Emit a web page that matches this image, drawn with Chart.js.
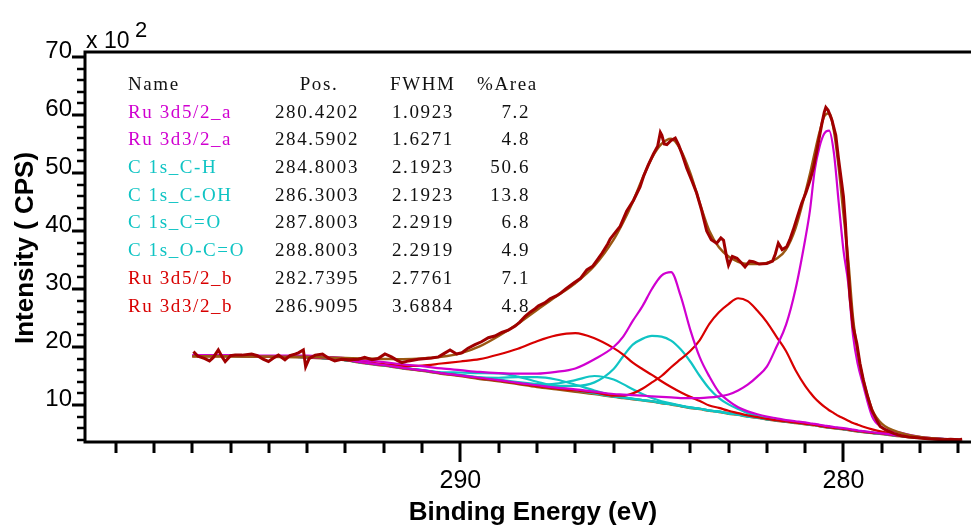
<!DOCTYPE html>
<html lang="en">
<head>
    <meta charset="UTF-8">
    <title>XPS Ru 3d / C 1s fit</title>
    <script src="https://cdn.jsdelivr.net/npm/chart.js"></script>
    <style>
        body { margin: 0; background: #fff; }
        canvas { display: block; }
    </style>
</head>
<body>
<canvas id="xpsChart" width="971" height="527"></canvas>
<script>
// measured spectrum (binding energy, intensity x100 CPS)
const rawE = [296.97, 296.85, 296.67, 296.55, 296.45, 296.32, 296.22, 296.14, 296.0, 295.88,
    295.7, 295.45, 295.3, 295.15, 295.01, 294.88, 294.75, 294.58, 294.45, 294.3,
    294.23, 294.1, 294.04, 293.95, 293.79, 293.6, 293.45, 293.28, 293.1, 292.9,
    292.66, 292.5, 292.31, 292.15, 291.97, 291.8, 291.65, 291.53, 291.35, 291.1,
    290.9, 290.75, 290.57, 290.42, 290.27, 290.1, 289.96, 289.8, 289.62, 289.45,
    289.27, 289.1, 288.92, 288.75, 288.57, 288.45, 288.31, 288.18, 288.05, 287.96,
    287.8, 287.66, 287.5, 287.4, 287.25, 287.05, 286.87, 286.7, 286.55, 286.44,
    286.3, 286.15, 286.09, 285.95, 285.83, 285.66, 285.48, 285.31, 285.22, 285.1,
    284.96, 284.85, 284.78, 284.74, 284.68, 284.61, 284.5, 284.39, 284.3, 284.2,
    284.09, 283.96, 283.83, 283.7, 283.57, 283.45, 283.31, 283.2, 283.13, 283.05,
    283.0, 282.9, 282.78, 282.68, 282.57, 282.45, 282.35, 282.2, 282.0, 281.85,
    281.78, 281.7, 281.6, 281.48, 281.4, 281.31, 281.2, 281.09, 280.98, 280.87,
    280.78, 280.69, 280.62, 280.56, 280.5, 280.46, 280.4, 280.3, 280.2, 280.13,
    280.05, 280.0, 279.95, 279.91, 279.83, 279.75, 279.65, 279.57, 279.48, 279.37,
    279.26, 279.15, 279.04, 278.9, 278.69, 278.5, 278.3, 278.0, 277.8, 277.6,
    277.4, 277.2, 277.0, 276.9];
const rawI = [19.2, 18.4, 18.0, 17.6, 18.2, 19.5, 18.3, 17.5, 18.5, 18.6,
    18.6, 18.8, 18.5, 17.9, 17.5, 18.1, 18.6, 17.8, 18.5, 18.8,
    19.0, 19.5, 16.6, 18.0, 18.6, 18.8, 18.1, 17.6, 17.9, 17.8,
    17.9, 18.2, 17.8, 18.0, 18.8, 18.3, 17.7, 17.3, 17.6, 17.9,
    18.0, 18.1, 18.3, 18.9, 19.5, 18.8, 19.0, 19.8, 20.4, 20.9,
    21.6, 21.9, 22.5, 22.9, 23.6, 24.3, 25.3, 26.0, 26.6, 27.1,
    27.6, 28.3, 28.8, 29.2, 30.0, 31.0, 31.8, 33.3, 33.9, 34.9,
    36.2, 37.8, 38.6, 39.8, 40.8, 43.4, 45.3, 47.6, 49.4, 51.3,
    53.3, 54.6, 57.0, 56.5, 55.0, 54.9, 55.6, 56.0, 54.8, 53.0,
    50.8, 48.7, 46.5, 43.5, 40.0, 38.5, 37.9, 38.8, 38.4, 35.5,
    34.1, 35.6, 35.3, 34.6, 33.8, 34.8, 34.7, 34.3, 34.4, 34.8,
    36.0, 37.9, 36.8, 37.3, 38.5, 40.2, 42.5, 44.8, 46.6, 48.8,
    51.0, 54.0, 56.5, 58.6, 60.5, 61.3, 60.8, 59.1, 56.5, 52.5,
    48.5, 45.9, 41.5, 36.7, 28.7, 23.5, 20.6, 17.2, 14.3, 11.5,
    9.1, 7.6, 6.3, 5.7, 5.1, 4.7, 4.5, 4.3, 4.2, 4.1,
    4.0, 4.1, 4.0, 4.1];

// energies where the fit curves were read
const fitE = [297, 296, 295, 294, 293.5, 293, 292.5, 292, 291.5, 291, 290.5, 290,
    289.5, 289, 288.5, 288, 287.5, 287, 286.5, 286, 285.75, 285.5, 285.25, 285,
    284.75, 284.5, 284.25, 284, 283.75, 283.5, 283.25, 283, 282.75, 282.5, 282.25, 282,
    281.75, 281.5, 281.25, 281, 280.875, 280.75, 280.625, 280.5, 280.375, 280.25, 280.125, 280,
    279.875, 279.75, 279.625, 279.5, 279.25, 279, 278.5, 278, 277.5, 277];

const envelope = [18.4, 18.4, 18.35, 18.3, 18.2, 18.1, 18.0, 17.95, 17.9, 18.0, 18.3, 18.9,
    20.1, 21.9, 24.0, 26.4, 28.7, 31.0, 34.0, 38.5, 41.5, 45.0, 49.0, 52.6,
    55.0, 55.9, 54.0, 50.0, 44.8, 40.0, 37.2, 35.6, 34.7, 34.3, 34.3, 34.5,
    35.2, 36.8, 40.5, 46.5, 49.8, 53.5, 57.0, 59.8, 60.3, 57.3, 51.0, 43.0,
    35.0, 25.0, 19.0, 14.8, 9.2, 6.8, 5.2, 4.5, 4.2, 4.05];
const background = [18.4, 18.4, 18.3, 18.2, 18.0, 17.7, 17.2, 16.8, 16.3, 15.9, 15.4, 15.0,
    14.5, 14.1, 13.6, 13.1, 12.7, 12.3, 11.9, 11.4, 11.2, 11.0, 10.8, 10.6,
    10.3, 10.1, 9.8, 9.5, 9.3, 9.0, 8.8, 8.5, 8.3, 8.0, 7.8, 7.5,
    7.3, 7.1, 6.9, 6.7, 6.6, 6.5, 6.35, 6.2, 6.1, 6.0, 5.9, 5.8,
    5.7, 5.55, 5.45, 5.35, 5.15, 5.0, 4.6, 4.3, 4.1, 4.0];

const ru3d52a = [18.5, 18.5, 18.4, 18.3, 18.1, 17.8, 17.3, 16.9, 16.4, 16.0, 15.5, 15.1,
    14.7, 14.3, 13.8, 13.4, 13.0, 12.7, 12.3, 11.9, 11.8, 11.7, 11.6, 11.5,
    11.4, 11.3, 11.2, 11.2, 11.2, 11.3, 11.5, 11.8, 12.5, 13.5, 14.9, 16.6,
    20.0, 23.8, 30.0, 38.5, 43.5, 50.5, 54.5, 56.8, 57.3, 53.5, 45.0, 36.7,
    31.0, 22.0, 17.0, 13.8, 8.0, 6.2, 5.2, 4.5, 4.2, 4.05];
const ru3d32a = [18.6, 18.6, 18.5, 18.5, 18.3, 18.1, 17.7, 17.4, 17.0, 16.7, 16.3, 16.0,
    15.7, 15.5, 15.4, 15.4, 15.7, 16.3, 17.9, 20.0, 21.8, 24.5, 27.0, 30.0,
    32.3, 32.9, 28.8, 23.0, 18.2, 14.9, 12.2, 10.7, 9.6, 8.9, 8.4, 8.0,
    7.7, 7.4, 7.2, 7.0, 6.85, 6.75, 6.6, 6.45, 6.35, 6.2, 6.1, 6.0,
    5.9, 5.75, 5.6, 5.5, 5.3, 5.1, 4.7, 4.4, 4.15, 4.05];
const c1sCH = [18.45, 18.45, 18.35, 18.25, 18.05, 17.75, 17.25, 16.85, 16.4, 16.0, 15.55, 15.2,
    14.75, 14.4, 13.95, 13.6, 13.35, 13.3, 13.9, 16.2, 18.4, 20.4, 21.4, 21.9,
    21.8, 21.1, 19.6, 17.5, 15.0, 12.8, 11.2, 10.1, 9.3, 8.6, 8.1, 7.7,
    7.45, 7.2, 7.0, 6.8, 6.7, 6.6, 6.45, 6.3, 6.2, 6.1, 6.0, 5.9,
    5.8, 5.65, 5.55, 5.45, 5.25, 5.1, 4.7, 4.4, 4.15, 4.05];
const c1sCOH = [18.45, 18.45, 18.35, 18.25, 18.05, 17.75, 17.25, 16.85, 16.35, 15.95, 15.5, 15.1,
    14.6, 14.25, 13.8, 13.55, 13.7, 14.3, 15.0, 14.4, 13.6, 12.7, 11.9, 11.2,
    10.65, 10.3, 9.9, 9.6, 9.35, 9.05, 8.85, 8.55, 8.35, 8.05, 7.85, 7.55,
    7.35, 7.15, 6.95, 6.75, 6.65, 6.55, 6.4, 6.25, 6.15, 6.05, 5.95, 5.85,
    5.75, 5.6, 5.5, 5.4, 5.2, 5.05, 4.65, 4.35, 4.15, 4.05];
const c1sCO = [18.45, 18.45, 18.35, 18.25, 18.05, 17.75, 17.25, 16.85, 16.35, 15.95, 15.5, 15.15,
    14.75, 14.7, 14.8, 14.8, 14.4, 13.5, 12.5, 11.65, 11.35, 11.1, 10.85, 10.65,
    10.35, 10.15, 9.85, 9.55, 9.35, 9.05, 8.85, 8.55, 8.35, 8.05, 7.85, 7.55,
    7.35, 7.15, 6.95, 6.75, 6.65, 6.55, 6.4, 6.25, 6.15, 6.05, 5.95, 5.85,
    5.75, 5.6, 5.5, 5.4, 5.2, 5.05, 4.65, 4.35, 4.15, 4.05];
const c1sOCO = [18.45, 18.45, 18.35, 18.25, 18.05, 17.75, 17.25, 16.85, 16.4, 16.0, 15.65, 15.6,
    15.5, 15.45, 14.9, 14.0, 13.15, 12.5, 11.98, 11.45, 11.25, 11.05, 10.85, 10.65,
    10.35, 10.15, 9.85, 9.55, 9.35, 9.05, 8.85, 8.55, 8.35, 8.05, 7.85, 7.55,
    7.35, 7.15, 6.95, 6.75, 6.65, 6.55, 6.4, 6.25, 6.15, 6.05, 5.95, 5.85,
    5.75, 5.6, 5.5, 5.4, 5.2, 5.05, 4.65, 4.35, 4.15, 4.05];
const ru3d52b = [18.45, 18.45, 18.35, 18.25, 18.05, 17.75, 17.25, 16.85, 16.35, 15.95, 15.45, 15.05,
    14.6, 14.2, 13.7, 13.25, 12.85, 12.5, 12.15, 11.6, 11.6, 12.0, 12.8, 13.9,
    15.0, 16.5, 17.9, 19.3, 21.2, 24.0, 26.0, 27.4, 28.4, 27.9, 26.3, 24.3,
    21.8, 19.3, 16.0, 13.3, 12.2, 11.2, 10.4, 9.7, 9.1, 8.6, 8.1, 7.7,
    7.3, 6.9, 6.6, 6.3, 5.8, 5.4, 4.8, 4.4, 4.15, 4.05];
const ru3d32b = [18.4, 18.4, 18.35, 18.25, 18.1, 17.85, 17.45, 17.05, 16.75, 16.8, 17.15, 17.5,
    17.9, 18.7, 19.7, 21.0, 22.0, 22.4, 21.5, 19.8, 18.7, 17.3, 16.2, 15.2,
    14.1, 13.1, 12.2, 11.4, 10.7, 9.9, 9.5, 9.0, 8.6, 8.2, 7.9, 7.6,
    7.35, 7.15, 6.95, 6.75, 6.65, 6.55, 6.4, 6.25, 6.15, 6.05, 5.95, 5.85,
    5.75, 5.6, 5.5, 5.4, 5.2, 5.05, 4.65, 4.35, 4.1, 4.0];

// peak table
const peakNames = ['Ru 3d5/2_a', 'Ru 3d3/2_a', 'C 1s_C-H', 'C 1s_C-OH', 'C 1s_C=O', 'C 1s_O-C=O', 'Ru 3d5/2_b', 'Ru 3d3/2_b'];
const peakPos = ['280.4202', '284.5902', '284.8003', '286.3003', '287.8003', '288.8003', '282.7395', '286.9095'];
const peakFwhm = ['1.0923', '1.6271', '2.1923', '2.1923', '2.2919', '2.2919', '2.7761', '3.6884'];
const peakArea = ['7.2', '4.8', '50.6', '13.8', '6.8', '4.9', '7.1', '4.8'];

// axis ticks
const xTickValues = [290, 280];
const xTickLabels = ['290', '280'];
const yTickValues = [10, 20, 30, 40, 50, 60, 70];
const yTickLabels = ['10', '20', '30', '40', '50', '60', '70'];

const MAGENTA = '#d000d0';
const CYAN = '#10c4c4';
const RED = '#d80000';
const DARKRED = '#a00000';
const BROWN = '#9a5812';
const nameColors = [MAGENTA, MAGENTA, CYAN, CYAN, CYAN, CYAN, RED, RED];

function pts(xs, ys) {
    return xs.map((x, i) => ({ x: x, y: ys[i] }));
}

function fitLine(values, color, width) {
    return {
        data: pts(fitE, values),
        borderColor: color,
        borderWidth: width,
        pointRadius: 0,
        fill: false,
        cubicInterpolationMode: 'monotone'
    };
}

// frame, ticks and axis titles
const axesPlugin = {
    id: 'xpsAxes',
    afterDraw(chart) {
        const ctx = chart.ctx;
        const a = chart.chartArea;
        const xs = chart.scales.x;
        const ys = chart.scales.y;
        ctx.save();
        ctx.strokeStyle = '#000';
        ctx.fillStyle = '#000';
        ctx.lineWidth = 3;
        ctx.beginPath();
        ctx.moveTo(a.left, a.top);
        ctx.lineTo(a.left, a.bottom + 1.5);
        ctx.moveTo(a.left - 1.5, a.bottom);
        ctx.lineTo(a.right, a.bottom);
        ctx.moveTo(a.left - 1.5, a.top);
        ctx.lineTo(a.right, a.top);
        ctx.stroke();

        // y ticks: minor every 2
        for (let v = 4; v <= 70; v += 2) {
            const y = Math.round(ys.getPixelForValue(v));
            const major = yTickValues.includes(v);
            ctx.lineWidth = major ? 3 : 2.5;
            ctx.beginPath();
            ctx.moveTo(a.left, y);
            ctx.lineTo(a.left - (major ? 13 : 8), y);
            ctx.stroke();
        }
        // x ticks: minor every 1 eV
        for (let e = 277; e <= 299; e++) {
            const x = Math.round(xs.getPixelForValue(e));
            const major = xTickValues.includes(e);
            ctx.lineWidth = 3;
            ctx.beginPath();
            ctx.moveTo(x, a.bottom);
            ctx.lineTo(x, a.bottom + (major ? 20 : 11));
            ctx.stroke();
        }

        ctx.font = '24px "Liberation Sans", Arial, sans-serif';
        ctx.textAlign = 'right';
        ctx.textBaseline = 'alphabetic';
        yTickValues.forEach((v, i) => {
            ctx.fillText(yTickLabels[i], a.left - 13, ys.getPixelForValue(v) + 1);
        });
        ctx.font = '25px "Liberation Sans", Arial, sans-serif';
        ctx.textAlign = 'center';
        xTickValues.forEach((v, i) => {
            ctx.fillText(xTickLabels[i], xs.getPixelForValue(v), a.bottom + 46);
        });

        // x 10^2
        ctx.textAlign = 'left';
        ctx.font = '23px "Liberation Sans", Arial, sans-serif';
        ctx.fillText('x 10', a.left + 1, 48);
        ctx.font = '22px "Liberation Sans", Arial, sans-serif';
        ctx.fillText('2', a.left + 50, 37);

        ctx.font = 'bold 26px "Liberation Sans", Arial, sans-serif';
        ctx.textAlign = 'center';
        ctx.fillText('Binding Energy (eV)', 533, 520);
        ctx.save();
        ctx.translate(33, 248);
        ctx.rotate(-Math.PI / 2);
        ctx.fillText('Intensity ( CPS)', 0, 0);
        ctx.restore();
        ctx.restore();
    }
};

// fit result table inside the plot
const tablePlugin = {
    id: 'peakTable',
    afterDatasetsDraw(chart) {
        const ctx = chart.ctx;
        ctx.save();
        ctx.font = '19px "Liberation Serif", "Times New Roman", serif';
        ctx.letterSpacing = '1.6px';
        ctx.textBaseline = 'middle';
        const rowY = i => 85 + i * 27.7;
        ctx.fillStyle = '#111';
        ctx.textAlign = 'left';
        ctx.fillText('Name', 128, rowY(0));
        ctx.textAlign = 'center';
        ctx.fillText('Pos.', 319, rowY(0));
        ctx.textAlign = 'left';
        ctx.fillText('FWHM', 390, rowY(0));
        ctx.fillText('%Area', 477, rowY(0));
        peakNames.forEach((n, i) => {
            const y = rowY(i + 1);
            ctx.fillStyle = nameColors[i];
            ctx.textAlign = 'left';
            ctx.fillText(n, 128, y);
            ctx.fillStyle = '#111';
            ctx.fillText(peakPos[i], 275, y);
            ctx.fillText(peakFwhm[i], 392, y);
            ctx.textAlign = 'right';
            ctx.fillText(peakArea[i], 530, y);
        });
        ctx.restore();
    }
};

new Chart(document.getElementById('xpsChart').getContext('2d'), {
    type: 'line',
    data: {
        datasets: [
            {
                data: pts(rawE, rawI),
                borderColor: DARKRED,
                borderWidth: 3,
                pointRadius: 0,
                fill: false,
                tension: 0
            },
            fitLine(envelope, BROWN, 2.5),
            fitLine(ru3d52a, MAGENTA, 2.2),
            fitLine(ru3d32a, MAGENTA, 2.2),
            fitLine(ru3d52b, RED, 2.2),
            fitLine(ru3d32b, RED, 2.2),
            fitLine(c1sCH, CYAN, 2.2),
            fitLine(c1sCOH, CYAN, 2.2),
            fitLine(c1sCO, CYAN, 2.2),
            fitLine(c1sOCO, CYAN, 2.2),
            fitLine(background, BROWN, 2.5)
        ]
    },
    options: {
        responsive: false,
        animation: false,
        devicePixelRatio: 1,
        layout: { padding: { left: 85, top: 52, right: 0, bottom: 85 } },
        plugins: {
            legend: { display: false },
            tooltip: { enabled: false }
        },
        scales: {
            x: { type: 'linear', reverse: true, min: 276.67, max: 299.8, display: false },
            y: { type: 'linear', min: 3.62, max: 70.86, display: false }
        }
    },
    plugins: [axesPlugin, tablePlugin]
});
</script>
</body>
</html>
